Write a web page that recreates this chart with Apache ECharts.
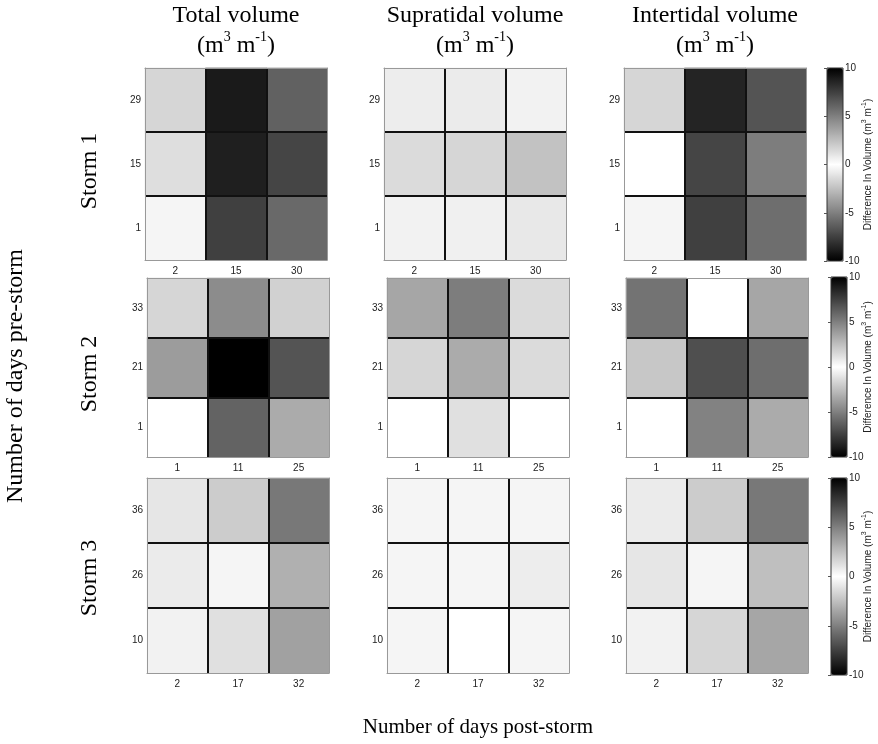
<!DOCTYPE html>
<html><head><meta charset="utf-8">
<script src="https://cdn.jsdelivr.net/npm/echarts@6/dist/echarts.min.js"></script>
<style>html,body{margin:0;padding:0;background:#fff}#c{width:878px;height:744px}</style>
</head><body><div id="c"></div><script>
// ---------- data ----------
const colTitles = ['Total volume', 'Supratidal volume', 'Intertidal volume'];
const stormNames = ['Storm 1', 'Storm 2', 'Storm 3'];
// post-storm days (x categories, left to right)
const storm1Post = ['2', '15', '30'];
const storm2Post = ['1', '11', '25'];
const storm3Post = ['2', '17', '32'];
// pre-storm days (y categories, bottom to top)
const storm1Pre = ['1', '15', '29'];
const storm2Pre = ['1', '21', '33'];
const storm3Pre = ['10', '26', '36'];
// values: rows listed top to bottom (last pre-storm first), columns by post-storm day
const storm1Total = [[-1.6, -9.0, -6.2], [-1.3, -8.8, -7.3], [-0.4, -7.5, -5.9]];
const storm1Supra = [[0.7, 0.8, 0.5], [1.4, 1.6, 2.4], [0.5, 0.6, 0.9]];
const storm1Inter = [[-1.6, -8.6, -6.7], [0.0, -7.3, -5.1], [-0.4, -7.5, -5.7]];
const storm2Total = [[-1.6, -4.5, -1.8], [-3.9, -10.0, -6.7], [0.0, -6.1, -3.3]];
const storm2Supra = [[3.5, 5.1, 1.4], [1.6, 3.3, 1.4], [0.0, 1.2, 0.0]];
const storm2Inter = [[-5.5, 0.0, -3.5], [-2.2, -6.9, -5.7], [0.0, -4.9, -3.3]];
const storm3Total = [[-1.0, -2.0, -5.3], [-0.8, -0.4, -3.1], [-0.5, -1.2, -3.7]];
const storm3Supra = [[0.4, 0.4, 0.4], [0.4, 0.4, 0.7], [0.4, 0.0, 0.4]];
const storm3Inter = [[-0.8, -2.0, -5.3], [-1.0, -0.4, -2.5], [-0.5, -1.6, -3.5]];
const colorbarTicks = [-10, -5, 0, 5, 10];

const storms = [
  { post: storm1Post, pre: storm1Pre, mats: [storm1Total, storm1Supra, storm1Inter] },
  { post: storm2Post, pre: storm2Pre, mats: [storm2Total, storm2Supra, storm2Inter] },
  { post: storm3Post, pre: storm3Pre, mats: [storm3Total, storm3Supra, storm3Inter] }
];

// ---------- layout ----------
const rowTops = [68, 278, 478];
const rowHeights = [192, 179, 195];
const colLefts = [[145, 384, 624], [147, 387, 626], [147, 387, 626]];
const gridW = 182;
const cbLefts = [827, 831, 831];
const cbTops = [68, 277, 478];
const cbHeights = [193, 180, 197];
const cbW = 16;

const SANS = '"Liberation Sans", Arial, sans-serif';
const SERIF = '"Liberation Serif", "Times New Roman", serif';

const grid = [], xAxis = [], yAxis = [], series = [], visualMap = [];
let gi = 0;
storms.forEach((st, r) => {
  const rowSeries = [];
  st.mats.forEach((m, c) => {
    grid.push({ left: colLefts[r][c], top: rowTops[r], width: gridW, height: rowHeights[r], containLabel: false });
    const ax = {
      type: 'category', gridIndex: gi, data: st.post, z: 5,
      axisLine: { lineStyle: { color: '#999', width: 1 } },
      axisTick: { inside: true, alignWithLabel: true, length: 3, lineStyle: { color: '#777' } },
      axisLabel: { fontFamily: SANS, fontSize: 10, color: '#222', margin: 6 },
      splitLine: { show: true, showMinLine: false, showMaxLine: false, lineStyle: { color: '#111', width: 2 } }
    };
    xAxis.push(Object.assign({ position: 'bottom' }, ax));
    xAxis.push(Object.assign({}, ax, { position: 'top', axisLabel: { show: false }, splitLine: { show: false } }));
    const ay = {
      type: 'category', gridIndex: gi, data: st.pre, z: 5,
      axisLine: { lineStyle: { color: '#999', width: 1 } },
      axisTick: { inside: true, alignWithLabel: true, length: 3, lineStyle: { color: '#777' } },
      axisLabel: { fontFamily: SANS, fontSize: 10, color: '#222', margin: 4 },
      splitLine: { show: true, showMinLine: false, showMaxLine: false, lineStyle: { color: '#111', width: 2 } }
    };
    yAxis.push(Object.assign({ position: 'left' }, ay));
    yAxis.push(Object.assign({}, ay, { position: 'right', axisLabel: { show: false }, splitLine: { show: false } }));
    const data = [];
    const n = m.length;
    m.forEach((row, ri) => row.forEach((v, ci) => data.push([ci, n - 1 - ri, v])));
    rowSeries.push(series.length);
    series.push({
      type: 'heatmap', xAxisIndex: gi * 2, yAxisIndex: gi * 2, data: data,
      itemStyle: { borderWidth: 0 }, emphasis: { disabled: true }, silent: true
    });
    gi++;
  });
  visualMap.push({
    type: 'continuous', min: -10, max: 10, calculable: false, show: true,
    seriesIndex: rowSeries, left: cbLefts[r], top: cbTops[r], itemWidth: cbW, itemHeight: cbHeights[r],
    padding: 0, text: null, hoverLink: false,
    inRange: { color: ['#000000', '#ffffff', '#000000'] },
    textStyle: { fontSize: 0 }
  });
});
// colorbar frames and tick labels
storms.forEach((st, r) => {
  grid.push({ left: cbLefts[r], top: cbTops[r], width: cbW, height: cbHeights[r], show: true,
    borderColor: '#333', borderWidth: 1, backgroundColor: 'transparent', z: 10 });
  xAxis.push({ type: 'value', gridIndex: gi, show: false, min: 0, max: 1 });
  yAxis.push({
    type: 'value', gridIndex: gi, position: 'right', min: colorbarTicks[0], max: colorbarTicks[colorbarTicks.length - 1],
    interval: colorbarTicks[1] - colorbarTicks[0], z: 10,
    axisLine: { show: false },
    axisTick: { show: true, inside: true, length: 3, lineStyle: { color: '#555' } },
    axisLabel: { fontFamily: SANS, fontSize: 10, color: '#222', margin: 2 },
    splitLine: { show: false }
  });
  gi++;
});

// ---------- free text ----------
const graphic = [];
const colCenters = colLefts[0].map(l => l + gridW / 2);
colTitles.forEach((t, c) => {
  graphic.push({ type: 'text', x: colCenters[c], y: 4, style: {
    text: t, font: '24px ' + SERIF, fill: '#000', textAlign: 'center', textVerticalAlign: 'top' } });
  graphic.push({ type: 'text', x: colCenters[c], y: 30, style: {
    text: '{n|(m}{s|3}{n| m}{s|-1}{n|)}', textAlign: 'center', textVerticalAlign: 'top',
    rich: { n: { font: '24px ' + SERIF, fill: '#000', lineHeight: 28, verticalAlign: 'bottom' },
            s: { font: '14px ' + SERIF, fill: '#000', lineHeight: 28, verticalAlign: 'top' } } } });
});
const stormCenters = [171, 374, 578];
stormNames.forEach((t, r) => {
  graphic.push({ type: 'text', x: 90, y: stormCenters[r], rotation: Math.PI / 2, style: {
    text: t, font: '24px ' + SERIF, fill: '#000', textAlign: 'center', textVerticalAlign: 'middle' } });
  graphic.push({ type: 'text', x: 867, y: cbTops[r] + cbHeights[r] / 2, rotation: Math.PI / 2, style: {
    text: '{n|Difference In Volume (m}{s|3}{n| m}{s|-1}{n|)}', textAlign: 'center', textVerticalAlign: 'middle',
    rich: { n: { font: '10px ' + SANS, fill: '#222', lineHeight: 13, verticalAlign: 'bottom' },
            s: { font: '7px ' + SANS, fill: '#222', lineHeight: 13, verticalAlign: 'top' } } } });
});
graphic.push({ type: 'text', x: 16, y: 376, rotation: Math.PI / 2, style: {
  text: 'Number of days pre-storm', font: '24px ' + SERIF, fill: '#000', textAlign: 'center', textVerticalAlign: 'middle' } });
graphic.push({ type: 'text', x: 478, y: 727, style: {
  text: 'Number of days post-storm', font: '21px ' + SERIF, fill: '#000', textAlign: 'center', textVerticalAlign: 'middle' } });

const chart = echarts.init(document.getElementById('c'), null, { renderer: 'canvas' });
chart.setOption({ animation: false, backgroundColor: '#fff', grid, xAxis, yAxis, series, visualMap, graphic });
</script></body></html>
